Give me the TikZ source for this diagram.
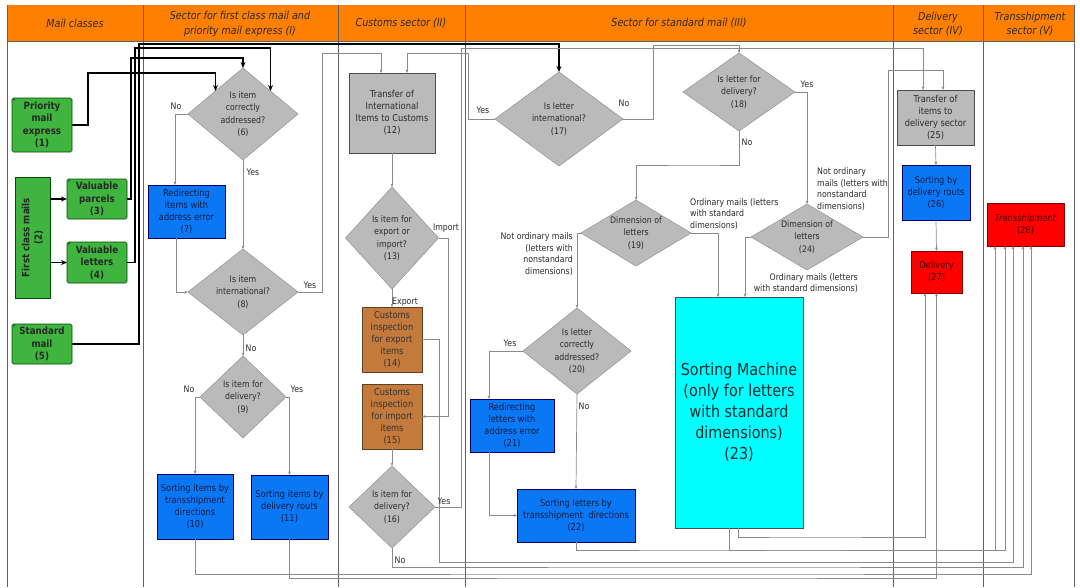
\documentclass[tikz,border=0pt]{standalone}
\usepackage{fontspec}
\setmainfont{DejaVu Sans}[FakeStretch=0.87]
\usetikzlibrary{shapes.geometric,arrows.meta,calc}
\definecolor{hdr}{HTML}{FF8000}
\definecolor{cgreen}{HTML}{3FB53F}
\definecolor{cblue}{HTML}{0A78F5}
\definecolor{cgray}{HTML}{BABABA}
\definecolor{cbrown}{HTML}{C47A3C}
\definecolor{cred}{HTML}{FF0000}
\definecolor{ccyan}{HTML}{00FFFF}
\definecolor{lgray}{HTML}{8A8A8A}
\definecolor{gridc}{HTML}{606060}
\definecolor{txt}{HTML}{2A2A2A}
\definecolor{btxt}{HTML}{101A40}
\definecolor{ctxt}{HTML}{103030}
\newcommand{\myfs}[2]{\fontsize{#1}{#2}\selectfont}
\begin{document}
\begin{tikzpicture}[x=1pt,y=-1pt,
  gridl/.style={draw=gridc, line width=0.6pt},
  hdrtext/.style={font=\itshape\myfs{11}{14.5}, text=txt, align=center, inner sep=0pt},
  basebox/.style={rectangle, inner sep=0pt, outer sep=0pt, align=center, font=\myfs{9.5}{12}, line width=0.6pt},
  gbox/.style={basebox, draw=green!30!black, fill=cgreen, font=\bfseries\myfs{10}{12.5}, text=black!85, rounded corners=1.5pt},
  gtext/.style={font=\bfseries\myfs{10}{12.5}, text=black!85, align=center, inner sep=0pt},
  bbox/.style={basebox, draw=blue!40!black, fill=cblue, text=btxt},
  graybox/.style={basebox, draw=gray!60!black, fill=cgray, text=txt},
  brbox/.style={basebox, draw=brown!50!black, fill=cbrown, text=black!80},
  rbox/.style={basebox, draw=red!50!black, fill=cred, text=black!75!red},
  cbox/.style={basebox, draw=black!70, fill=ccyan, text=ctxt, font=\myfs{16.5}{21}},
  dia/.style={diamond, draw=gray!80, fill=cgray, inner sep=0pt, outer sep=0pt, line width=0.6pt},
  dtext/.style={font=\myfs{9}{12.5}, text=txt, align=center, inner sep=0pt},
  lab/.style={font=\myfs{9}{11.5}, text=txt, inner sep=0pt},
  conn/.style={draw=lgray, line width=0.7pt, -{Stealth[length=3.5pt,width=2.8pt]}},
  fat/.style={draw=black, line width=1.6pt, -{Stealth[length=6pt,width=5pt]}},
  mk/.style={label={[anchor=north west, inner sep=0.6pt, font=\myfs{6}{6}, text=black]north west:°}}
]
\useasboundingbox (0,0) rectangle (1080,587);
\fill[white] (0,0) rectangle (1080,587);
% header
\fill[hdr] (7,5) rectangle (1074,41);
\foreach \x in {7,143,338,465,893,983,1074} \draw[gridl] (\x,5) -- (\x,587);
\draw[gridl] (7,41) -- (1074,41);
\node[hdrtext] (h1) at (75,23) {Mail classes};
\node[hdrtext] (h2) at (240,24) {Sector for first class mail and\\priority mail express (I)};
\node[hdrtext] (h3) at (401,23) {Customs sector (II)};
\node[hdrtext] (h4) at (679,23) {Sector for standard mail (III)};
\node[hdrtext] (h5) at (938,24) {Delivery\\sector (IV)};
\node[hdrtext] (h6) at (1030,24) {Transshipment\\sector (V)};

% mail classes
\node[gbox, mk, minimum width=60pt, minimum height=54pt] (n1) at (42,125) {Priority\\mail\\express\\(1)};
\node[gbox, rounded corners=0pt, minimum width=35pt, minimum height=121pt] (n2) at (32.5,237.5) {};
\node[gtext, rotate=90] (t2) at (n2) {First class mails\\(2)};
\node[gbox, mk, minimum width=60pt, minimum height=40pt] (n3) at (97,199) {Valuable\\parcels\\(3)};
\node[gbox, mk, minimum width=60pt, minimum height=41pt] (n4) at (97,262.5) {Valuable\\letters\\(4)};
\node[gbox, mk, minimum width=60pt, minimum height=40pt] (n5) at (42,344) {Standard\\mail\\(5)};

% sector I
\node[dia, minimum width=110pt, minimum height=92pt] (d6) at (243,114) {};
\node[dtext] (t6) at (d6) {Is item\\correctly\\addressed?\\(6)};
\node[bbox, minimum width=77pt, minimum height=53pt] (n7) at (186.5,211.5) {Redirecting\\items with\\address error\\(7)};
\node[dia, minimum width=110pt, minimum height=86pt] (d8) at (243,292) {};
\node[dtext] (t8) at (d8) {Is item\\international?\\(8)};
\node[dia, minimum width=86pt, minimum height=82pt] (d9) at (243,397) {};
\node[dtext] (t9) at (d9) {Is item for\\delivery?\\(9)};
\node[bbox, minimum width=76pt, minimum height=65pt] (n10) at (195,506.5) {Sorting items by\\transshipment\\directions\\(10)};
\node[bbox, minimum width=77pt, minimum height=64pt] (n11) at (289.5,507) {Sorting items by\\delivery routs\\(11)};

% customs
\node[graybox, minimum width=86pt, minimum height=80pt] (n12) at (392,113) {Transfer of\\International\\Items to Customs\\(12)};
\node[dia, minimum width=93pt, minimum height=102pt] (d13) at (392,238) {};
\node[dtext] (t13) at (d13) {Is item for\\export or\\import?\\(13)};
\node[brbox, minimum width=60pt, minimum height=65pt] (n14) at (392,339.5) {Customs\\inspection\\for export\\items\\(14)};
\node[brbox, minimum width=60pt, minimum height=65pt] (n15) at (392,416.5) {Customs\\inspection\\for import\\items\\(15)};
\node[dia, minimum width=86pt, minimum height=82pt] (d16) at (392,507) {};
\node[dtext] (t16) at (d16) {Is item for\\delivery?\\(16)};

% standard mail
\node[dia, minimum width=128pt, minimum height=94pt] (d17) at (559,119) {};
\node[dtext] (t17) at (d17) {Is letter\\international?\\(17)};
\node[dia, minimum width=112pt, minimum height=78pt] (d18) at (739,92) {};
\node[dtext] (t18) at (d18) {Is letter for\\delivery?\\(18)};
\node[dia, minimum width=110pt, minimum height=66pt] (d19) at (636,233) {};
\node[dtext] (t19) at (d19) {Dimension of\\letters\\(19)};
\node[dia, minimum width=108pt, minimum height=86pt] (d20) at (577,351) {};
\node[dtext] (t20) at (d20) {Is letter\\correctly\\addressed?\\(20)};
\node[bbox, minimum width=84pt, minimum height=53pt] (n21) at (512,425.5) {Redirecting\\letters with\\address error\\(21)};
\node[bbox, minimum width=118pt, minimum height=53pt] (n22) at (576,515.5) {Sorting letters by\\transshipment\ \ directions\\(22)};
\node[cbox, minimum width=128pt, minimum height=231pt] (n23) at (739,412.5) {Sorting Machine\\(only for letters\\with standard\\dimensions)\\(23)};
\node[dia, minimum width=112pt, minimum height=66pt] (d24) at (807,237) {};
\node[dtext] (t24) at (d24) {Dimension of\\letters\\(24)};

% delivery & transshipment
\node[graybox, minimum width=77pt, minimum height=55pt] (n25) at (935.5,117.5) {Transfer of\\items to\\delivery sector\\(25)};
\node[bbox, minimum width=68pt, minimum height=55pt] (n26) at (936,192.5) {Sorting by\\delivery routs\\(26)};
\node[rbox, minimum width=51pt, minimum height=42pt] (n27) at (936.5,272) {Delivery\\(27)};
\node[rbox, minimum width=77pt, minimum height=43pt] (n28) at (1025.5,224.5) {\textit{Transshipment}\\(28)};

% thick input lines
\draw[fat] (n2.east |- n3.west) -- (n3.west);
\draw[fat] (n2.east |- n4.west) -- (n4.west);
\draw[fat] (n1.east) -| (88,73) -| (d6.north west);
\draw[fat] (n3.east) -| (131,58) -| (d6.north);
\draw[fat] (n4.east) -| (135,48) -| (d6.north east);
\draw[fat] (n5.east) -| (139,44) -| (d17.north);

% sector I connectors
\draw[conn] (d6.west) -| ([xshift=-11.5pt]n7.north);
\draw[conn] (d6.south) -- (d8.north);
\draw[conn] ([xshift=-10.5pt]n7.south) |- (d8.west);
\draw[conn] (d8.east) -| (322,53) -| ([xshift=-11pt]n12.north);
\draw[conn] (d8.south) -- (d9.north);
\draw[conn] (d9.west) -| (n10.north);
\draw[conn] (d9.east) -| (n11.north);

% customs connectors
\draw[conn] (n12.south) -- (d13.north);
\draw[conn] (d13.south) -- (n14.north);
\draw[conn] (d13.east) -| (448,416.5) -- (n15.east);
\draw[conn] (n15.south) -- (d16.north);
\draw[conn] (d16.east) -| (461,48) -| ([xshift=-12.5pt]n25.north);

% standard mail connectors
\draw[conn] (d17.west) -| (468,53) -| ([xshift=15pt]n12.north);
\draw[conn] (d17.east) -| (653,45) -| (d18.north);
\draw[conn] (d18.south) |- (700,165) -| (d19.north);
\draw[conn] (d18.east) -| (d24.north);
\draw[conn] (d19.west) -| (d20.north);
\draw[conn] (d19.east) -| ([xshift=-21pt]n23.north);
\draw[conn] (d24.west) -| ([xshift=6pt]n23.north);
\draw[conn] (d24.east) -| (888,70) -| ([xshift=7.5pt]n25.north);
\draw[conn] (d20.west) -| ([xshift=-23pt]n21.north);
\draw[conn] (d20.south) -- (n22.north);
\draw[conn] ([xshift=-23pt]n21.south) |- (n22.west);

% delivery sector
\draw[conn] (n25.south) -- (n26.north);
\draw[conn] (n26.south) -- (n27.north);

% bottom routing
\draw[conn] ([xshift=-1pt]n23.south) |- (800,537) -| ([xshift=-11.5pt]n27.south);
\draw[conn] (n11.south) |- (700,578) -| (n27.south);
\draw[conn] (n22.south) |- (700,550) -| ([xshift=-30.5pt]n28.south);
\draw[conn] ([xshift=-10pt]n23.south) |- (800,550) -| ([xshift=-20.5pt]n28.south);
\draw[conn] (n14.east) -| (439,562) -| ([xshift=-12.5pt]n28.south);
\draw[conn] (d16.south) |- (700,567) -| ([xshift=-2.5pt]n28.south);
\draw[conn] (n10.south) |- (700,574) -| ([xshift=5.5pt]n28.south);

% labels
\node[lab] (l1) at (176,106) {No};
\node[lab] (l2) at (253,172) {Yes};
\node[lab] (l3) at (310,285) {Yes};
\node[lab] (l4) at (251,348) {No};
\node[lab] (l5) at (189,389) {No};
\node[lab] (l6) at (297,389) {Yes};
\node[lab] (l7) at (446,228) {Import};
\node[lab] (l8) at (405,302) {Export};
\node[lab] (l9) at (444,501) {Yes};
\node[lab] (l10) at (400,560) {No};
\node[lab] (l11) at (483,110) {Yes};
\node[lab] (l12) at (624,103) {No};
\node[lab] (l13) at (807,84) {Yes};
\node[lab] (l14) at (747,142) {No};
\node[lab] (l15) at (510,343) {Yes};
\node[lab] (l16) at (584,406) {No};
\node[lab, anchor=east, align=right] (l17) at (573,254) {Not ordinary mails\\(letters with\\nonstandard\\dimensions)};
\node[lab, anchor=west, align=left] (l18) at (690,214) {Ordinary mails (letters\\with standard\\dimensions)};
\node[lab, anchor=east, align=right] (l19) at (858,283) {Ordinary mails (letters\\with standard dimensions)};
\node[lab, anchor=west, align=left] (l20) at (817,189) {Not ordinary\\mails (letters with\\nonstandard\\dimensions)};
\end{tikzpicture}
\end{document}
